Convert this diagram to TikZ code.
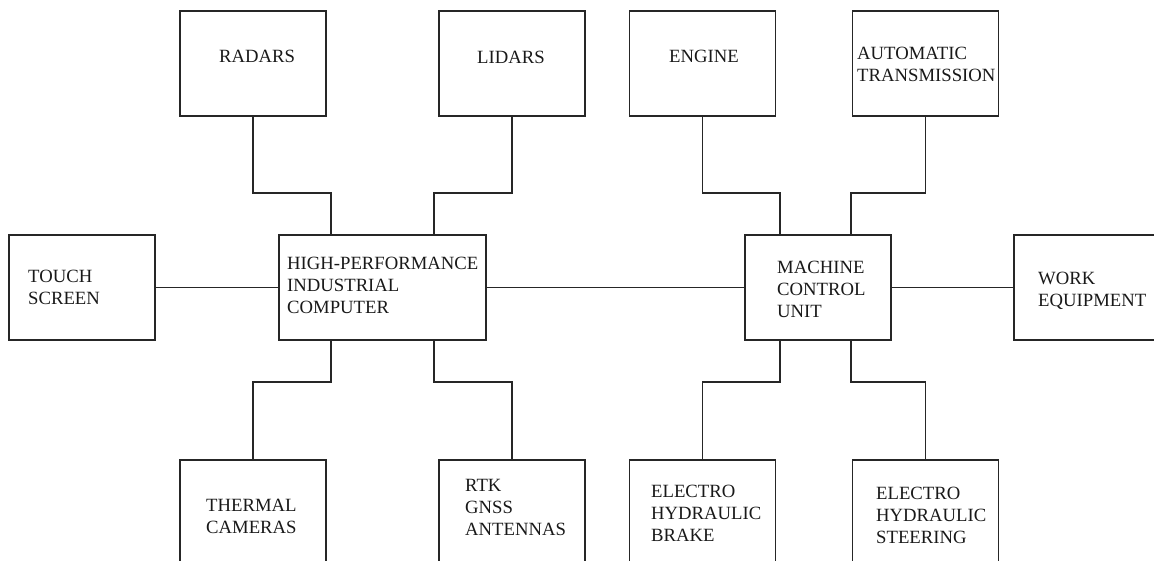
\documentclass[tikz,border=0pt]{standalone}
\usepackage{fontspec}
\setmainfont{Liberation Serif}
\usetikzlibrary{calc}
\begin{document}
\begin{tikzpicture}[x=1pt,y=-1pt,
  box/.style={draw=black!85,line width=1.1pt,minimum width=146pt,minimum height=105pt,inner sep=0pt,outer sep=0pt},
  lbl/.style={anchor=base west,inner sep=0pt,align=left,font=\fontsize{18.7}{21.6}\selectfont,text=black!90},
  wire/.style={draw=black!85,line width=1.1pt}]
\useasboundingbox (0,0) rectangle (1154,560);
% boxes
\node[box] (radars) at (253,63.5) {};
\node[box] (lidars) at (512,63.5) {};
\node[box] (engine) at (702.5,63.5) {};
\node[box] (auto) at (925.5,63.5) {};
\node[box] (touch) at (82,287.5) {};
\node[box,minimum width=207pt] (hpic) at (382.5,287.5) {};
\node[box] (mcu) at (818,287.5) {};
\node[box] (work) at (1087,287.5) {};
\node[box] (thermal) at (253,512.5) {};
\node[box] (rtk) at (512,512.5) {};
\node[box] (brake) at (702.5,512.5) {};
\node[box] (steer) at (925.5,512.5) {};
% labels (base = baseline of the last line)
\node[lbl] (tr) at (219,62) {RADARS};
\node[lbl] (tl) at (477,63) {LIDARS};
\node[lbl] (te) at (669,62) {ENGINE};
\node[lbl] (ta) at (857,81) {AUTOMATIC\\TRANSMISSION};
\node[lbl] (tt) at (28,304) {TOUCH\\SCREEN};
\node[lbl] (th) at (287,313) {HIGH-PERFORMANCE\\INDUSTRIAL\\COMPUTER};
\node[lbl] (tm) at (777,317) {MACHINE\\CONTROL\\UNIT};
\node[lbl] (tw) at (1038,306) {WORK\\EQUIPMENT};
\node[lbl] (tc) at (206,533) {THERMAL\\CAMERAS};
\node[lbl] (tg) at (465,535) {RTK\\GNSS\\ANTENNAS};
\node[lbl] (tb) at (651,541) {ELECTRO\\HYDRAULIC\\BRAKE};
\node[lbl] (ts) at (876,543) {ELECTRO\\HYDRAULIC\\STEERING};
% connectors
\coordinate (h1) at ($(hpic.north west)+(52,0)$);
\coordinate (h2) at ($(hpic.north west)+(155,0)$);
\coordinate (h3) at ($(hpic.south west)+(52,0)$);
\coordinate (h4) at ($(hpic.south west)+(155,0)$);
\coordinate (m1) at ($(mcu.north west)+(35,0)$);
\coordinate (m2) at ($(mcu.north west)+(106,0)$);
\coordinate (m3) at ($(mcu.south west)+(35,0)$);
\coordinate (m4) at ($(mcu.south west)+(106,0)$);
\draw[wire] (radars.south) -- ++(0,77) -| (h1);
\draw[wire] (lidars.south) -- ++(0,77) -| (h2);
\draw[wire] (engine.south) -- ++(0,77) -| (m1);
\draw[wire] (auto.south) -- ++(0,77) -| (m2);
\draw[wire] (thermal.north) -- ++(0,-78) -| (h3);
\draw[wire] (rtk.north) -- ++(0,-78) -| (h4);
\draw[wire] (brake.north) -- ++(0,-78) -| (m3);
\draw[wire] (steer.north) -- ++(0,-78) -| (m4);
\draw[wire] (touch.east) -- (hpic.west);
\draw[wire] (hpic.east) -- (mcu.west);
\draw[wire] (mcu.east) -- (work.west);
\end{tikzpicture}
\end{document}
